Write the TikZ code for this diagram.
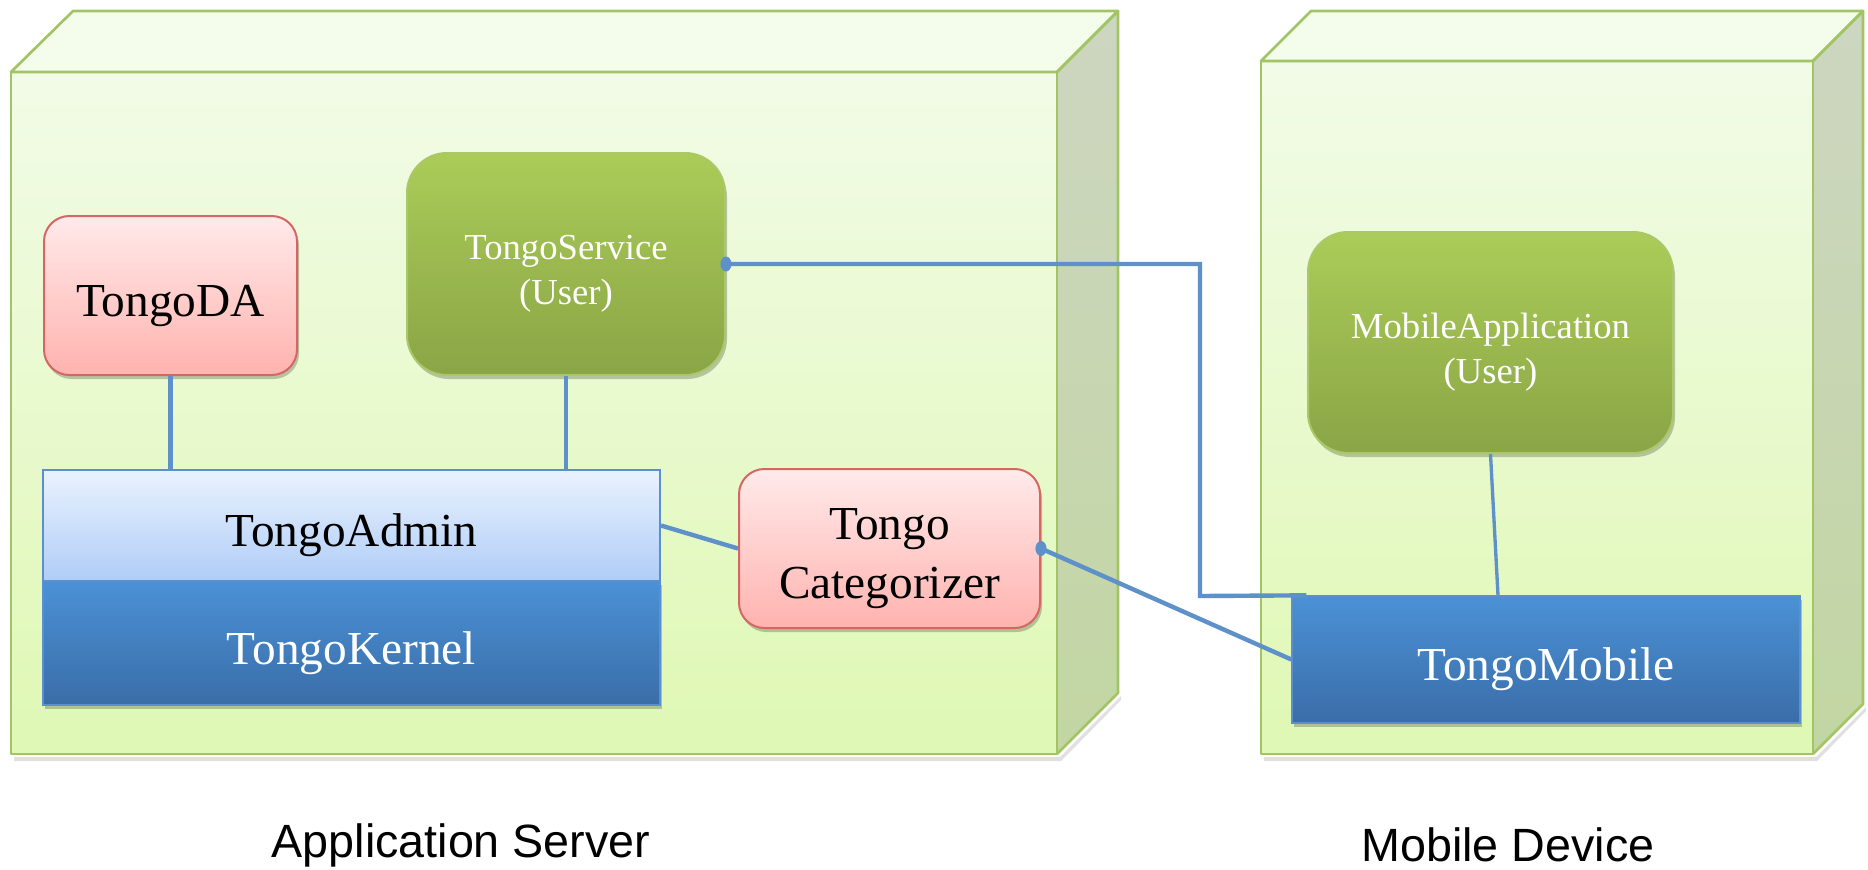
\documentclass[tikz,border=0pt]{standalone}
\usepackage{fontspec}
\setmainfont{Liberation Serif}
\newfontfamily\labelfont{Liberation Sans}
\usetikzlibrary{shadows,calc}

% one line of box text, set a little lower than its natural place
\newcommand\dropline[1]{\raisebox{-7.5pt}[\height][\depth]{#1}}

\definecolor{cubeline}{HTML}{A2C465}
\definecolor{cubefronttop}{HTML}{F2FBE7}
\definecolor{cubefrontbot}{HTML}{DFF8B4}
\definecolor{cubetop}{HTML}{F4FCEC}
\definecolor{cubesidetop}{HTML}{CDD6C1}
\definecolor{cubesidebot}{HTML}{C2D6A2}
\definecolor{redtop}{HTML}{FFEAEA}
\definecolor{redbot}{HTML}{FFB3AF}
\definecolor{redline}{HTML}{D56663}
\definecolor{greentop}{HTML}{ABCC58}
\definecolor{greenbot}{HTML}{8AA546}
\definecolor{greenline}{HTML}{A9C868}
\definecolor{admintop}{HTML}{EAF2FE}
\definecolor{adminbot}{HTML}{AFCDF7}
\definecolor{blueline}{HTML}{5C8FD0}
\definecolor{kerneltop}{HTML}{4B91D6}
\definecolor{kernelbot}{HTML}{3A6DA8}
\definecolor{wire}{HTML}{5E90CA}

\tikzset{
  boxshadow/.style={drop shadow={shadow xshift=1.5pt, shadow yshift=-3pt, opacity=0.22, fill=black}},
  redbox/.style={rectangle, rounded corners=19pt, draw=redline, line width=1.5pt,
    top color=redtop, bottom color=redbot, boxshadow, inner sep=0pt,
    font=\fontsize{35.5}{44}\selectfont, text=black, align=center},
  greenbox/.style={rectangle, rounded corners=30pt, draw=greenline, line width=1.5pt,
    top color=greentop, bottom color=greenbot, boxshadow, inner sep=0pt,
    font=\fontsize{27.5}{34}\selectfont, text=white, align=center},
  adminbox/.style={rectangle, draw=blueline, line width=1.5pt,
    top color=admintop, bottom color=adminbot, inner sep=0pt,
    font=\fontsize{35.5}{40}\selectfont, text=black},
  kernelbox/.style={rectangle, draw=blueline, line width=1pt,
    top color=kerneltop, bottom color=kernelbot, boxshadow, inner sep=0pt,
    font=\fontsize{35.5}{40}\selectfont, text=white},
  wireline/.style={draw=wire, line width=3.3pt},
  thinwire/.style={draw=wire, line width=2.5pt},
  wiredot/.style={fill=wire},
  cubeedge/.style={draw=cubeline, line width=2pt, line join=round},
  caption/.style={font=\labelfont\fontsize{35}{40}\selectfont, text=black, inner sep=0pt}
}

\begin{document}
\begin{tikzpicture}[x=0.75pt,y=-0.75pt]
\useasboundingbox (0,0) rectangle (1868,869);

% ---- application server cube ----
\fill[black, opacity=0.12] (14,757) -- (1060,757) -- (1121,696) -- (1121,700) -- (1061,761) -- (14,761) -- cycle;
\shade[top color=cubefronttop, bottom color=cubefrontbot] (11,72) rectangle (1057,754);
\fill[cubetop] (11,72) -- (73,11) -- (1118,11) -- (1057,72) -- cycle;
\shade[top color=cubesidetop, bottom color=cubesidebot] (1057,72) -- (1118,11) -- (1118,693) -- (1057,754) -- cycle;
\draw[cubeedge] (11,72) -- (73,11) -- (1118,11) -- (1057,72) -- cycle;
\draw[cubeedge] (1057,72) -- (1118,11) -- (1118,693) -- (1057,754);
\draw[cubeedge] (11,72) rectangle (1057,754);

% ---- mobile device cube ----
\fill[black, opacity=0.12] (1264,757) -- (1816,757) -- (1866,707) -- (1866,711) -- (1817,761) -- (1264,761) -- cycle;
\shade[top color=cubefronttop, bottom color=cubefrontbot] (1261,61) rectangle (1813,754);
\fill[cubetop] (1261,61) -- (1311,11) -- (1863,11) -- (1813,61) -- cycle;
\shade[top color=cubesidetop, bottom color=cubesidebot] (1813,61) -- (1863,11) -- (1863,704) -- (1813,754) -- cycle;
\draw[cubeedge] (1261,61) -- (1311,11) -- (1863,11) -- (1813,61) -- cycle;
\draw[cubeedge] (1813,61) -- (1863,11) -- (1863,704) -- (1813,754);
\draw[cubeedge] (1261,61) rectangle (1813,754);

% ---- components ----
\node[redbox, minimum width=189.75pt, minimum height=119.25pt] (da) at (170.5,295.5) {\dropline{TongoDA}};
\node[greenbox, minimum width=238.5pt, minimum height=166.5pt] (service) at (566,264) {\dropline{TongoService}\\\dropline{(User)}};
\node[kernelbox, minimum width=462.75pt, minimum height=93pt] (kernel) at (351.5,643) {\dropline{TongoKernel}};
\node[adminbox, minimum width=462.75pt, minimum height=83.25pt] (admin) at (351.5,525.5) {\dropline{TongoAdmin}};
\node[redbox, minimum width=225.75pt, minimum height=119.25pt] (cat) at (889.5,548.5) {\dropline{Tongo}\\\dropline{Categorizer}};
\node[kernelbox, minimum width=381pt, minimum height=95.25pt] (mobile) at (1546,659.5) {\dropline{TongoMobile}};
\node[greenbox, minimum width=273.75pt, minimum height=165.75pt] (app) at (1490.5,342.5) {\dropline{MobileApplication}\\\dropline{(User)}};

% ---- connectors ----
\coordinate (bend) at (1200,596);
\draw[wireline] (da.south) -- (da.south |- admin.north);
\draw[wireline] (service.south) -- (service.south |- admin.north);
\draw[wireline] (admin.east) -- (cat.west);
\draw[wireline] (cat.east) -- (mobile.west);
\draw[wireline] (service.east) -| (bend) -- ($(mobile.north west)+(15,0)$);
\draw[thinwire] (app.south) -- ($(mobile.north)+(-48,0)$);
\fill[wiredot] (service.east) ellipse [x radius=4.2pt, y radius=5.6pt];
\fill[wiredot] (cat.east) ellipse [x radius=4.2pt, y radius=5.6pt];

% ---- captions ----
\node[caption] (servercap) at (461,845) {Application Server};
\node[caption] (devicecap) at (1508,845) {Mobile Device};
\end{tikzpicture}
\end{document}
